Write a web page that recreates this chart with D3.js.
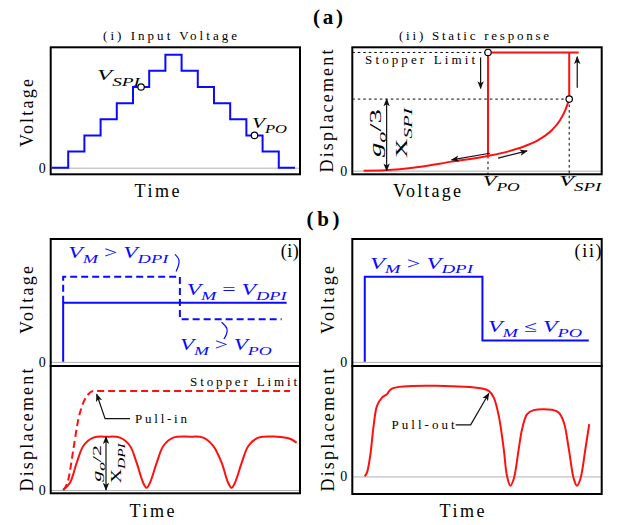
<!DOCTYPE html>
<html>
<head>
<meta charset="utf-8">
<script src="https://cdn.jsdelivr.net/npm/d3@7"></script>
<style>
  body { margin: 0; background: #fff; }
  svg { display: block; }
</style>
</head>
<body>
<div id="chart"></div>
<script>
// ---- data ----
// (a)(i) input voltage staircase (time units, voltage steps)
const stepTimes  = [0, 1, 2, 3, 4, 5, 6, 7, 8, 9, 10, 11, 12, 13, 14, 15];
const stepLevels = [0, 1, 2, 3, 4, 5, 6, 7, 6, 5, 4, 3, 2, 1, 0, 0];
const markTimes  = [5.5, 12.5];
const markLevels = [5, 2];

// (a)(ii) static response, voltage normalised to V_SPI, displacement to g_o
const staticV = [0, 0.105, 0.268, 0.429, 0.605, 0.754, 0.851, 0.916, 0.956, 0.981, 1.0];
const staticX = [0, 0.002, 0.017, 0.042, 0.068, 0.104, 0.143, 0.189, 0.236, 0.282, 0.333];
const V_PO = 0.605, V_SPI = 1.0, V_END = 1.046;
const X_PO = 0.068, X_SPI = 0.333, X_STOP = 0.55;

// (b)(i) voltage inputs
const b1SolidT = [0, 0, 9.86];
const b1SolidV = [0, 1, 1];
const b1DashT  = [0, 0, 5.15, 5.15, 9.64];
const b1DashV  = [1, 1.44, 1.44, 0.72, 0.72];

// (b)(i) displacement
const b1T = [0, 0.30, 0.60, 0.89, 1.33, 1.92, 2.51, 2.95, 3.24, 3.53, 3.68, 3.83, 4.13, 4.42,
             4.86, 5.59, 6.18, 6.62, 6.99, 7.28, 7.43, 7.58, 7.88, 8.17, 8.61, 9.42, 10.01, 10.30];
const b1X = [0, 0.068, 0.256, 0.413, 0.491, 0.5, 0.491, 0.413, 0.256, 0.068, 0.02, 0.068, 0.256, 0.413,
             0.491, 0.5, 0.491, 0.413, 0.256, 0.068, 0.02, 0.068, 0.256, 0.413, 0.491, 0.5, 0.481, 0.444];
const b1PullT = [0, 0.23, 0.45, 0.67, 0.89, 1.11, 1.33, 10.01];
const b1PullX = [0, 0.10, 0.382, 0.663, 0.819, 0.898, 0.929, 0.929];

// (b)(ii) voltage input
const b2VT = [0, 0, 5.19, 5.19, 9.88];
const b2VV = [0, 1.44, 1.44, 0.36, 0.36];

// (b)(ii) displacement
const b2T = [0, 0.10, 0.24, 0.39, 0.54, 0.76, 0.98, 1.20, 5.17, 5.47, 5.69, 5.91, 6.13, 6.27, 6.42,
             6.57, 6.79, 6.94, 7.16, 7.45, 8.26, 8.55, 8.78, 9.00, 9.22, 9.36, 9.51, 9.73, 9.90];
const b2X = [0, 0.038, 0.194, 0.476, 0.663, 0.741, 0.773, 0.826, 0.826, 0.804, 0.741, 0.569, 0.257, 0.007, -0.087,
             -0.024, 0.257, 0.445, 0.585, 0.623, 0.626, 0.600, 0.507, 0.257, -0.024, -0.087, -0.024, 0.257, 0.492];

// ---- drawing ----
const FONT = "'Liberation Serif', serif";
const BLUE = "#0a0aff", RED = "#ff1010";

const svg = d3.select("#chart").append("svg")
    .attr("width", 623).attr("height", 525);

const defs = svg.append("defs");
defs.append("marker")
    .attr("id", "ah").attr("viewBox", "0 0 10 10")
    .attr("refX", 9).attr("refY", 5)
    .attr("markerWidth", 8).attr("markerHeight", 8)
    .attr("markerUnits", "userSpaceOnUse")
    .attr("orient", "auto-start-reverse")
  .append("path").attr("d", "M0,1 L10,5 L0,9 L2.5,5 Z").attr("fill", "#111");

const zip = (a, b) => a.map((v, i) => [v, b[i]]);

function panel(x0, y0, w, h, xDom, yDom) {
    const g = svg.append("g").attr("transform", `translate(${x0},${y0})`);
    const x = d3.scaleLinear().domain(xDom).range([0, w]);
    const y = d3.scaleLinear().domain(yDom).range([h, 0]);
    // zero line + "0" tick through the axis
    const ax = g.append("g").call(d3.axisLeft(y).tickValues([0]).tickFormat(d3.format("d"))
        .tickSize(-w).tickPadding(5));
    ax.select(".domain").remove();
    ax.selectAll("line").attr("stroke", "#b0b0b0").attr("stroke-width", 1);
    ax.selectAll("text").style("font-family", FONT).style("font-size", "14px").attr("fill", "#000");
    return {g, x, y, w, h};
}
function frame(p) {
    p.g.append("rect").attr("width", p.w).attr("height", p.h)
        .attr("fill", "none").attr("stroke", "#000").attr("stroke-width", 2);
}
function text(g, x, y, s, o) {
    o = o || {};
    const t = g.append("text")
        .attr("transform", `translate(${x},${y})` + (o.rot ? " rotate(-90)" : ""))
        .attr("text-anchor", o.anchor || "middle")
        .attr("fill", o.color || "#000")
        .style("font-family", FONT)
        .style("font-size", (o.size || 16) + "px")
        .style("font-weight", o.bold ? "bold" : "normal")
        .text(s);
    if (o.len) t.attr("textLength", o.len).attr("lengthAdjust", "spacing");
    return t;
}
// parts: [string, kind]  kind: "v" italic, "s" italic subscript, "o" upright
function math(g, x, y, parts, o) {
    const size = o.size || 16;
    const t = g.append("text")
        .attr("transform", `translate(${x},${y})` + (o.rot ? " rotate(-90)" : ""))
        .attr("text-anchor", o.anchor || "start")
        .attr("fill", o.color || "#000")
        .style("font-family", FONT)
        .style("font-size", size + "px");
    if (o.len) t.attr("textLength", o.len).attr("lengthAdjust", "spacingAndGlyphs");
    let shift = 0;
    parts.forEach(([s, kind]) => {
        const sub = kind === "s";
        const want = sub ? size * (o.subDrop || 0.3) : 0;
        t.append("tspan").text(s)
            .attr("dy", want - shift)
            .style("font-style", kind === "o" ? "normal" : "italic")
            .style("font-size", (sub ? size * 0.78 : size) + "px");
        shift = want;
    });
    return t;
}
function arrow(g, pts, both) {
    const p = g.append("path").attr("d", d3.line()(pts))
        .attr("fill", "none").attr("stroke", "#111").attr("stroke-width", 1.2)
        .attr("marker-end", "url(#ah)");
    if (both) p.attr("marker-start", "url(#ah)");
    return p;
}

// ===== (a)(i) Input Voltage =====
{
    const p = panel(50.7, 47.3, 249.3, 127, [-0.08, 15.31], [-0.41, 7.46]);
    const {g, x, y} = p;
    g.append("path")
        .attr("d", d3.line().x(d => x(d[0])).y(d => y(d[1])).curve(d3.curveStepAfter)(zip(stepTimes, stepLevels)))
        .attr("fill", "none").attr("stroke", BLUE).attr("stroke-width", 2);
    g.selectAll("circle.m").data(zip(markTimes, markLevels)).join("circle")
        .attr("cx", d => x(d[0])).attr("cy", d => y(d[1])).attr("r", 3.2)
        .attr("fill", "#fff").attr("stroke", "#000").attr("stroke-width", 1.2);
    math(g, x(2.78), y(5.43), [["V", "v"], ["SPI", "s"]], {size: 15, len: 43, subDrop: 0.4});
    math(g, x(12.35), y(2.46), [["V", "v"], ["PO", "s"]], {size: 15, len: 35, subDrop: 0.35});
    frame(p);
    text(svg, 170, 40, "(i) Input Voltage", {size: 13, len: 134});
    text(svg, 157, 197, "Time", {size: 18, len: 45});
    text(svg, 33, 113, "Voltage", {size: 18, len: 68, rot: true});
}

// ===== (a)(ii) Static response =====
{
    const p = panel(352.3, 47.3, 249.4, 127, [-0.055, 1.158], [-0.017, 0.574]);
    const {g, x, y, h} = p;
    const dot = (pts) => g.append("path").attr("d", d3.line()(pts))
        .attr("fill", "none").attr("stroke", "#000").attr("stroke-width", 1).attr("stroke-dasharray", "2.5,3");
    dot([[0, y(X_STOP)], [x(V_PO), y(X_STOP)]]);
    dot([[0, y(X_SPI)], [x(V_SPI), y(X_SPI)]]);
    dot([[x(V_PO), y(X_PO)], [x(V_PO), h + 4]]);
    dot([[x(V_SPI), y(X_SPI)], [x(V_SPI), h + 4]]);

    const red = (d) => g.append("path").attr("d", d).attr("fill", "none")
        .attr("stroke", RED).attr("stroke-width", 2);
    red(d3.line().x(d => x(d[0])).y(d => y(d[1])).curve(d3.curveMonotoneX)(zip(staticV, staticX)));
    red(d3.line()([[x(V_SPI), y(X_SPI)], [x(V_SPI), y(X_STOP)]]));
    red(d3.line()([[x(V_PO), y(X_STOP)], [x(V_END), y(X_STOP)]]));
    red(d3.line()([[x(V_PO), y(X_STOP)], [x(V_PO), y(X_PO)]]));

    g.selectAll("circle.m").data([[V_PO, X_STOP], [V_SPI, X_SPI]]).join("circle")
        .attr("cx", d => x(d[0])).attr("cy", d => y(d[1])).attr("r", 3.2)
        .attr("fill", "#fff").attr("stroke", "#000").attr("stroke-width", 1.2);

    arrow(g, [[x(0.569), y(0.527)], [x(0.569), y(0.383)]]);
    arrow(g, [[x(1.039), y(0.386)], [x(1.039), y(0.53)]]);
    arrow(g, [[x(0.614), y(0.081)], [x(0.428), y(0.05)]]);
    arrow(g, [[x(0.654), y(0.058)], [x(0.795), y(0.092)]]);
    arrow(g, [[x(0.112), y(0.0)], [x(0.112), y(X_SPI)]], true);

    text(g, x(0.007), y(0.497), "Stopper Limit", {size: 13, len: 110, anchor: "start"});
    math(g, x(0.063) + 4, y(0.175), [["g", "v"], ["o", "s"], ["/3", "o"]], {size: 17, len: 48, rot: true, anchor: "middle"});
    math(g, x(0.185) + 5, y(0.175), [["X", "o"], ["SPI", "s"]], {size: 17, len: 50, rot: true, anchor: "middle"});
    frame(p);

    text(svg, 474, 40, "(ii) Static response", {size: 13, len: 150});
    text(svg, 328, 24, "(a)", {size: 21, len: 30, bold: true});
    text(svg, 427, 197, "Voltage", {size: 18, len: 68});
    math(svg, 482.7, 186, [["V", "v"], ["PO", "s"]], {size: 15, len: 37});
    math(svg, 559.3, 186, [["V", "v"], ["SPI", "s"]], {size: 15, len: 42});
    text(svg, 333, 111, "Displacement", {size: 18, len: 123, rot: true});
}

// ===== (b)(i) =====
{
    const p = panel(50.7, 239, 249.3, 127, [-0.55, 10.45], [-0.07, 2.08]);
    const {g, x, y} = p;
    const ln = d3.line().x(d => x(d[0])).y(d => y(d[1]));
    g.append("path").attr("d", ln(zip(b1DashT, b1DashV)))
        .attr("fill", "none").attr("stroke", BLUE).attr("stroke-width", 2).attr("stroke-dasharray", "7,4");
    g.append("path").attr("d", ln(zip(b1SolidT, b1SolidV)))
        .attr("fill", "none").attr("stroke", BLUE).attr("stroke-width", 2);
    const brace = d3.line().x(d => x(d[0])).y(d => y(d[1])).curve(d3.curveBasis);
    g.append("path").attr("d", brace([[4.93, 1.82], [5.15, 1.74], [5.08, 1.61], [4.98, 1.53]]))
        .attr("fill", "none").attr("stroke", BLUE).attr("stroke-width", 1.2);
    g.append("path").attr("d", brace([[6.99, 0.67], [7.28, 0.57], [7.21, 0.455], [7.09, 0.388]]))
        .attr("fill", "none").attr("stroke", BLUE).attr("stroke-width", 1.2);
    math(g, x(0.226), y(1.76), [["V", "v"], ["M", "s"], [" > ", "o"], ["V", "v"], ["DPI", "s"]], {size: 16, len: 100, color: BLUE});
    math(g, x(5.45), y(1.13), [["V", "v"], ["M", "s"], [" = ", "o"], ["V", "v"], ["DPI", "s"]], {size: 16, len: 100, color: BLUE});
    math(g, x(5.15), y(0.20), [["V", "v"], ["M", "s"], [" > ", "o"], ["V", "v"], ["PO", "s"]], {size: 16, len: 92, color: BLUE});
    text(g, x(10.0), y(1.78), "(i)", {size: 18, len: 18});
    frame(p);
    text(svg, 33, 300, "Voltage", {size: 18, len: 68, rot: true});
}
{
    const p = panel(50.7, 366, 249.3, 127.3, [-0.55, 10.45], [-0.031, 1.163]);
    const {g, x, y} = p;
    g.append("path")
        .attr("d", d3.line().x(d => x(d[0])).y(d => y(d[1])).curve(d3.curveMonotoneX)(zip(b1PullT, b1PullX)))
        .attr("fill", "none").attr("stroke", RED).attr("stroke-width", 2).attr("stroke-dasharray", "7,4");
    g.append("path")
        .attr("d", d3.line().x(d => x(d[0])).y(d => y(d[1])).curve(d3.curveCatmullRom.alpha(0.5))(zip(b1T, b1X)))
        .attr("fill", "none").attr("stroke", RED).attr("stroke-width", 2);
    text(g, x(5.6), y(0.98), "Stopper Limit", {size: 13, len: 107, anchor: "start"});
    arrow(g, [[x(2.95), y(0.669)], [x(1.85), y(0.669)], [x(1.48), y(0.898)]]);
    text(g, x(3.17), y(0.63), "Pull-in", {size: 13, len: 52, anchor: "start"});
    arrow(g, [[x(1.89), y(0)], [x(1.89), y(0.5)]], true);
    math(g, x(1.89) - 5, y(0.25), [["g", "v"], ["o", "s"], ["/2", "o"]], {size: 13, len: 37, rot: true, anchor: "middle"});
    math(g, x(1.89) + 15, y(0.25), [["X", "o"], ["DPI", "s"]], {size: 14, len: 40, rot: true, anchor: "middle"});
    frame(p);
    text(svg, 33, 430, "Displacement", {size: 18, len: 123, rot: true});
    text(svg, 152, 517, "Time", {size: 18, len: 45});
}

// ===== (b)(ii) =====
{
    const p = panel(352.3, 239, 249.4, 127, [-0.55, 10.45], [-0.07, 2.08]);
    const {g, x, y} = p;
    g.append("path").attr("d", d3.line().x(d => x(d[0])).y(d => y(d[1]))(zip(b2VT, b2VV)))
        .attr("fill", "none").attr("stroke", BLUE).attr("stroke-width", 2);
    math(g, x(0.23), y(1.58), [["V", "v"], ["M", "s"], [" > ", "o"], ["V", "v"], ["DPI", "s"]], {size: 16, len: 103, color: BLUE});
    math(g, x(5.44), y(0.51), [["V", "v"], ["M", "s"], [" \u2264 ", "o"], ["V", "v"], ["PO", "s"]], {size: 16, len: 94, color: BLUE});
    text(g, x(9.85), y(1.78), "(ii)", {size: 18, len: 27});
    frame(p);
    text(svg, 323, 226, "(b)", {size: 21, len: 33, bold: true});
    text(svg, 334, 300, "Voltage", {size: 18, len: 68, rot: true});
}
{
    const p = panel(352.3, 366, 249.4, 128, [-0.55, 10.45], [-0.165, 1.038]);
    const {g, x, y} = p;
    g.append("path")
        .attr("d", d3.line().x(d => x(d[0])).y(d => y(d[1])).curve(d3.curveCatmullRom.alpha(0.5))(zip(b2T, b2X)))
        .attr("fill", "none").attr("stroke", RED).attr("stroke-width", 2);
    arrow(g, [[x(4.01), y(0.485)], [x(4.67), y(0.485)], [x(5.47), y(0.78)]]);
    text(g, x(3.96), y(0.45), "Pull-out", {size: 13, len: 63, anchor: "end"});
    frame(p);
    text(svg, 334, 430, "Displacement", {size: 18, len: 123, rot: true});
    text(svg, 462, 517, "Time", {size: 18, len: 45});
}
</script>
</body>
</html>
